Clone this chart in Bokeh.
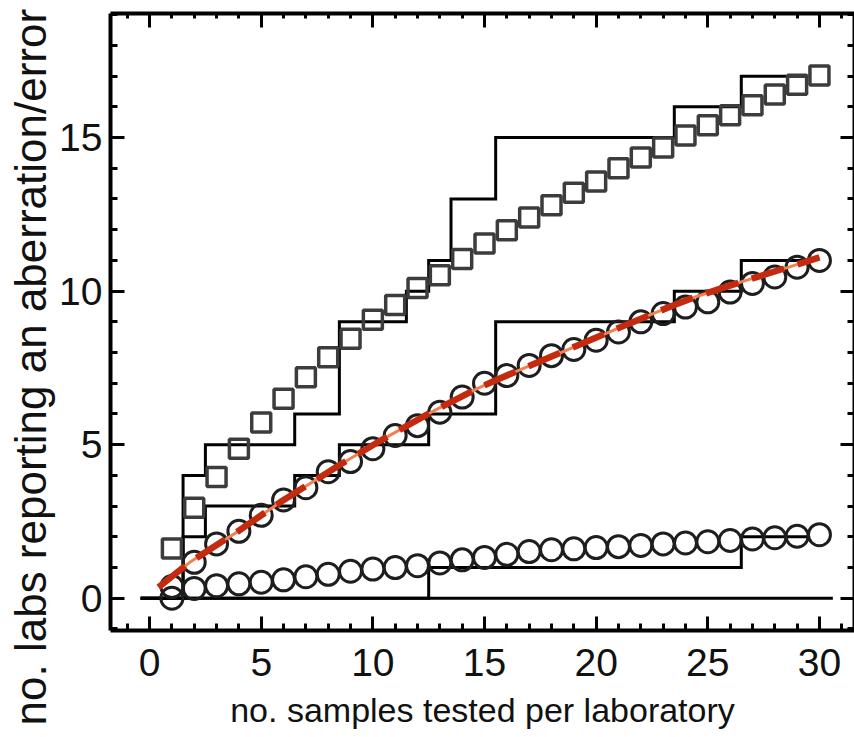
from bokeh.plotting import figure
from bokeh.models import Range1d, LinearAxis, FixedTicker, Title
from bokeh.embed import file_html
from bokeh.resources import INLINE

# ---- data ----
samples = list(range(1, 31))
expected_high = [1.62, 2.95, 3.95, 4.87, 5.72, 6.5, 7.2, 7.85, 8.45, 9.07,
                 9.55, 10.1, 10.52, 11.05, 11.55, 11.98, 12.4, 12.8, 13.2, 13.57,
                 14.0, 14.35, 14.68, 15.07, 15.4, 15.73, 16.05, 16.4, 16.72, 17.02]
expected_mid = [0.38, 1.17, 1.77, 2.18, 2.7, 3.2, 3.6, 4.12, 4.45, 4.87,
                5.3, 5.62, 6.06, 6.55, 7.0, 7.25, 7.58, 7.9, 8.1, 8.4,
                8.67, 9.0, 9.27, 9.48, 9.65, 9.97, 10.25, 10.46, 10.78, 11.0]
expected_low = [0.0, 0.32, 0.41, 0.47, 0.52, 0.6, 0.7, 0.78, 0.88, 0.95,
                1.0, 1.06, 1.15, 1.25, 1.33, 1.43, 1.52, 1.58, 1.61, 1.65,
                1.68, 1.72, 1.77, 1.8, 1.84, 1.88, 1.93, 1.97, 2.02, 2.07]

fit_x = [0.4, 1.8, 3.9, 5.9, 8.6, 10.6, 12.6, 14.6, 15.5, 19.4, 21.5, 23.5, 24.4, 26.5, 28.7, 30.0]
fit_y = [0.36, 1.17, 2.15, 3.15, 4.38, 5.24, 6.05, 6.8, 7.1, 8.3, 8.95, 9.55, 9.8, 10.3, 10.8, 11.1]

obs_high_x = [-0.4, 1.5, 2.5, 6.5, 8.5, 11.5, 12.5, 13.5, 15.5, 23.5, 26.5, 29.5]
obs_high_y = [0, 4, 5, 6, 9, 10, 11, 13, 15, 16, 17, 17]
obs_mid_x = [-0.4, 1.5, 2.5, 6.5, 8.5, 12.5, 15.5, 23.5, 26.5, 29.5]
obs_mid_y = [0, 2, 3, 4, 5, 6, 9, 10, 11, 11]
obs_low_x = [-0.4, 12.5, 26.5, 29.5]
obs_low_y = [0, 1, 2, 2]
zero_x = [-0.4, 30.6]
zero_y = [0, 0]

x_major = [0, 5, 10, 15, 20, 25, 30]
y_major = [0, 5, 10, 15]

x_title = "no. samples tested per laboratory"
y_title = "no. labs reporting an aberration/error"

FONT = "Liberation Sans"

p = figure(width=854, height=737, output_backend="svg", toolbar_location=None,
           x_range=Range1d(-1.75, 31.57), y_range=Range1d(-1.05, 19.04),
           min_border_left=110, min_border_right=0, min_border_top=13,
           min_border_bottom=107, x_axis_location=None, y_axis_location=None)
p.grid.visible = False
p.outline_line_color = None
p.background_fill_color = "white"
p.border_fill_color = "white"


def style(ax, ticks=None):
    ax.axis_line_width = 4
    ax.axis_line_color = "black"
    ax.major_tick_in = 14
    ax.major_tick_out = 0
    ax.minor_tick_in = 7
    ax.minor_tick_out = 0
    ax.major_tick_line_width = 3
    ax.minor_tick_line_width = 3
    ax.major_tick_line_color = "black"
    ax.minor_tick_line_color = "black"
    if ticks is None:
        ax.major_label_text_font = FONT
        ax.major_label_text_font_size = "39px"
        ax.major_label_text_color = "#111111"
    else:
        # mirrored frame side: ticks only, no labels
        ax.major_label_overrides = {t: "" for t in ticks}
        ax.major_label_text_font_size = "1px"
        ax.major_label_standoff = 0


xt = FixedTicker(ticks=x_major, minor_ticks=list(range(-1, 33)))
yt = FixedTicker(ticks=y_major, minor_ticks=list(range(-1, 20)))

bottom = LinearAxis(ticker=xt)
style(bottom)
bottom.major_label_standoff = 18
bottom.axis_label = x_title
bottom.axis_label_text_font = FONT
bottom.axis_label_text_font_size = "34px"
bottom.axis_label_text_font_style = "normal"
bottom.axis_label_text_color = "#111111"
bottom.axis_label_standoff = 12
p.add_layout(bottom, "below")

left = LinearAxis(ticker=yt)
style(left)
left.major_label_standoff = 8
p.add_layout(left, "left")

top = LinearAxis(ticker=xt)
style(top, x_major)
top.minor_tick_in = 5
p.add_layout(top, "above")

right = LinearAxis(ticker=yt)
style(right, y_major)
p.add_layout(right, "right")

# y title on the left side, shifted down like the reference
p.add_layout(Title(text=y_title, align="left", offset=-95, standoff=3,
                   text_font=FONT, text_font_size="44px", text_font_style="normal",
                   text_color="#111111"), "left")

# observed step lines
p.line(zero_x, zero_y, line_color="black", line_width=3)
for sx, sy in [(obs_high_x, obs_high_y), (obs_mid_x, obs_mid_y), (obs_low_x, obs_low_y)]:
    p.step(sx, sy, mode="after", line_color="black", line_width=3, line_join="miter")

# expected values
p.scatter(samples, expected_high, marker="square", size=19, fill_color=None,
          line_color="#3c3c3c", line_width=3.5)
p.scatter(samples, expected_mid, marker="circle", size=22, fill_color=None,
          line_color="#1e1e1e", line_width=3)
p.scatter(samples, expected_low, marker="circle", size=22, fill_color=None,
          line_color="#1e1e1e", line_width=3)

# fit line
p.line(fit_x, fit_y, line_color="#f28050", line_width=3)
p.line(fit_x, fit_y, line_color="#c42a0e", line_width=6.5, line_dash="34 14")

open("out.html", "w").write(file_html(p, INLINE))
